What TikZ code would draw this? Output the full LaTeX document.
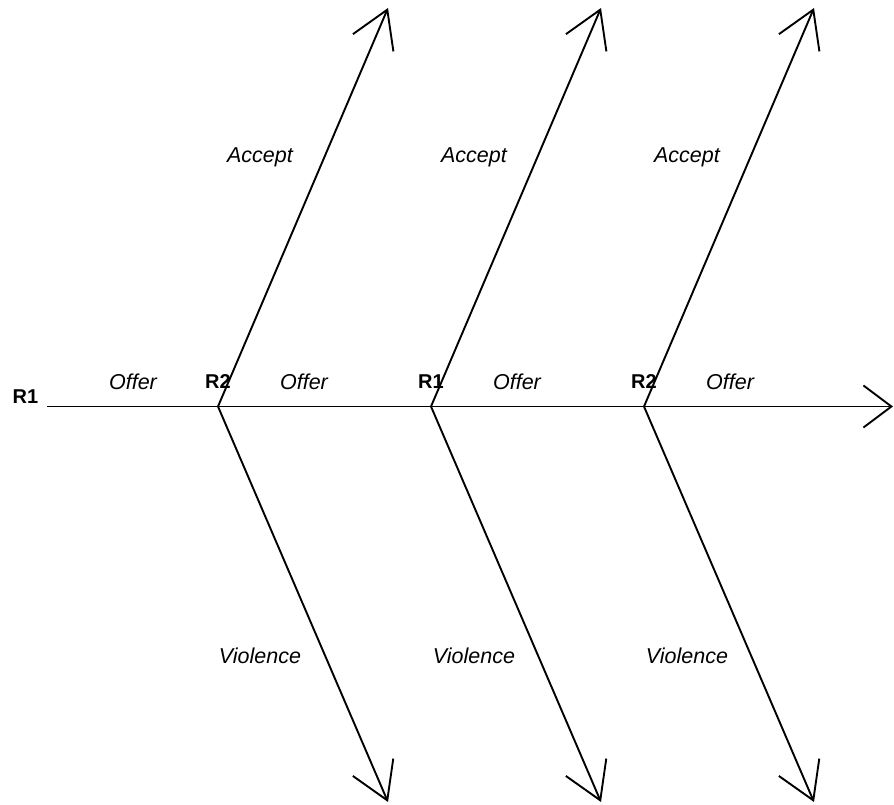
\documentclass[tikz,border=0pt]{standalone}
\usepackage{fontspec}
\setmainfont{Liberation Sans}
\usetikzlibrary{arrows.meta}
\begin{document}
\begin{tikzpicture}[x=1pt,y=-1pt,
  edge/.style={line width=1.9pt},
  diag/.style={edge,-{Straight Barb[length=36pt,width=44pt,line width=1.9pt]}},
  mainar/.style={edge,-{Straight Barb[length=28pt,width=42pt,line width=1.9pt]}},
  lbl/.style={font=\fontsize{21.5}{24}\selectfont\itshape,inner sep=0pt},
  rl/.style={font=\fontsize{20}{23}\selectfont\bfseries,inner sep=0pt}]
\useasboundingbox (0,0) rectangle (894,805);
\coordinate (s) at (47,406.5);
\coordinate (b1) at (218,406.5);
\coordinate (b2) at (431,406.5);
\coordinate (b3) at (644,406.5);
\coordinate (e) at (893,406.5);
\coordinate (u1) at (388,8);
\coordinate (u2) at (601,8);
\coordinate (u3) at (814,8);
\coordinate (d1) at (388,802);
\coordinate (d2) at (601,802);
\coordinate (d3) at (814,802);
\draw[mainar] (s) -- (e);
\foreach \i in {1,2,3}{
  \draw[diag] (b\i) -- (u\i);
  \draw[diag] (b\i) -- (d\i);
}
\node[rl] (r0) at (25.5,397) {R1};
\node[rl] (r1) at (218,382) {R2};
\node[rl] (r2) at (431,382) {R1};
\node[rl] (r3) at (644,382) {R2};
\node[lbl] (o1) at (133,382) {Offer};
\node[lbl] (o2) at (304,382) {Offer};
\node[lbl] (o3) at (517,382) {Offer};
\node[lbl] (o4) at (730,382) {Offer};
\node[lbl] (a1) at (260,157) {Accept};
\node[lbl] (a2) at (474,157) {Accept};
\node[lbl] (a3) at (687,157) {Accept};
\node[lbl] (v1) at (260,656) {Violence};
\node[lbl] (v2) at (474,656) {Violence};
\node[lbl] (v3) at (687,656) {Violence};
\end{tikzpicture}
\end{document}
